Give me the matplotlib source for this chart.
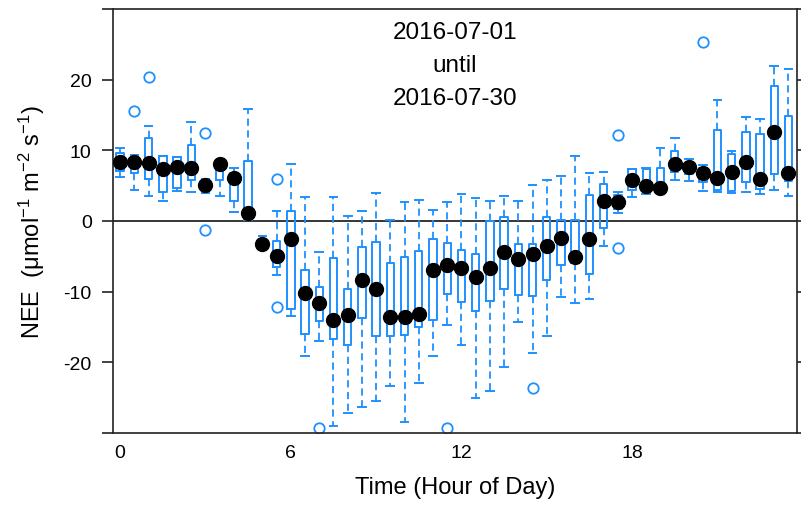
import matplotlib
matplotlib.use("Agg")
import matplotlib.pyplot as plt
import numpy as np

plt.rcParams['font.family'] = ['Liberation Sans', 'DejaVu Sans']
plt.rcParams['mathtext.fontset'] = 'custom'
plt.rcParams['mathtext.rm'] = 'Liberation Sans'
plt.rcParams['mathtext.it'] = 'Liberation Sans:italic'
plt.rcParams['mathtext.default'] = 'regular'

hours = [h / 2 for h in range(48)]
whislo = [6.2, 4.4, 3.6, 2.9, 4.2, 4.1, 3.95, 3.6, 1.3, 0.1,
          -4.05, -7.6, -13.5, -19.15, -17.0, -28.95, -27.15, -26.35, -25.45, -23.4,
          -28.5, -22.95, -19.15, -14.65, -17.55, -25.1, -24.1, -20.6, -14.35, -18.7,
          -16.25, -10.7, -11.6, -11.1, -3.5, 1.1, 3.35, 3.8, 4.05, 5.75,
          5.65, 4.2, 4.05, 3.95, 4.15, 3.8, 4.45, 3.6]
q1 = [7.1, 6.8, 5.9, 4.05, 4.6, 5.8, 3.95, 5.8, 2.9, 0.3,
      -3.8, -6.5, -12.45, -16.0, -14.15, -16.7, -17.6, -13.7, -16.25, -16.25,
      -16.1, -15.0, -14.05, -10.3, -11.5, -12.8, -11.35, -9.6, -10.45, -10.6,
      -8.35, -6.2, -6.0, -7.5, -1.0, 1.7, 4.4, 3.9, 4.05, 6.9,
      6.65, 5.45, 4.45, 4.25, 5.45, 4.5, 6.65, 5.7]
q3 = [9.6, 9.2, 11.7, 9.15, 9.0, 10.75, 6.0, 8.5, 6.8, 8.5,
      -2.6, -2.85, 1.4, -6.9, -9.4, -5.2, -9.6, -3.7, -3.0, -5.9,
      -5.05, -4.25, -2.55, -3.15, -4.1, -4.6, 0.05, 0.5, -3.25, -3.25,
      0.5, 0.15, 0.15, 3.75, 5.3, 3.7, 7.35, 7.3, 7.5, 9.85,
      8.2, 7.45, 12.85, 9.5, 12.65, 12.3, 19.05, 14.8]
whishi = [10.4, 9.3, 13.4, 9.2, 9.05, 14.05, 6.0, 8.6, 7.5, 15.85,
          -2.1, 1.4, 8.1, 3.35, -4.4, 3.35, 0.75, 1.4, 3.95, 0.2,
          2.75, 3.0, 1.5, 2.75, 3.85, 3.25, 2.8, 3.6, 2.8, 5.15,
          5.8, 6.4, 9.25, 6.75, 7.0, 4.15, 7.35, 7.55, 10.4, 11.8,
          8.75, 7.9, 17.1, 9.95, 14.65, 14.4, 21.9, 21.5]
centre = [8.3, 8.35, 8.2, 7.35, 7.6, 7.45, 5.1, 8.05, 6.1, 1.2,
          -3.2, -5.0, -2.6, -10.25, -11.6, -14.0, -13.3, -8.35, -9.65, -13.6,
          -13.6, -13.1, -6.9, -6.2, -6.65, -7.97, -6.65, -4.4, -5.4, -4.7,
          -3.6, -2.45, -5.05, -2.5, 2.9, 2.75, 5.8, 5.0, 4.6, 8.05,
          7.7, 6.75, 6.05, 6.9, 8.3, 5.95, 12.55, 6.75]
out_hours = [0.5, 1.0, 3.0, 3.0, 5.5, 5.5, 7.0, 11.5, 14.5, 17.5, 17.5, 20.5]
out_vals = [15.5, 20.4, 12.45, -1.3, 6.0, -12.2, -29.3, -29.3, -23.7, 12.15, -3.8, 25.35]

title_lines = ["2016-07-01", "until", "2016-07-30"]
xtick_vals = [0, 6, 12, 18]
ytick_vals = [-30, -20, -10, 0, 10, 20, 30]
ytick_labels = ["", "-20", "-10", "0", "10", "20", ""]

blue = "#1E90FF"

fig = plt.figure(figsize=(8.01, 5.06), dpi=100)
ax = fig.add_axes([112.5 / 801, 1 - 434 / 506, (797 - 112.5) / 801, (434 - 10) / 506])

stats = []
for i, h in enumerate(hours):
    fl = [v for hh, v in zip(out_hours, out_vals) if hh == h]
    stats.append(dict(med=centre[i], q1=q1[i], q3=q3[i], whislo=whislo[i],
                      whishi=whishi[i], fliers=fl))

ax.bxp(stats, positions=hours, widths=0.26, capwidths=0.27, showfliers=True,
       boxprops=dict(color=blue, linewidth=1.4),
       whiskerprops=dict(color=blue, linewidth=1.3, linestyle=(0, (4, 2.5))),
       capprops=dict(color=blue, linewidth=1.4),
       medianprops=dict(linewidth=0, color='none'),
       flierprops=dict(marker='o', markerfacecolor='none', markeredgecolor=blue,
                       markersize=7.5, markeredgewidth=1.3, linestyle='none'),
       manage_ticks=False)

ax.axhline(0, color='black', linewidth=1.1, zorder=1)
ax.plot(hours, centre, 'o', color='black', markersize=10, zorder=5)

ax.set_xlim(-0.27, 23.8)
ax.set_ylim(-30, 30)

for s in ax.spines.values():
    s.set_linewidth(1.2)
    s.set_color('#222222')

ax.set_yticks(ytick_vals)
ax.set_yticklabels(ytick_labels)
ax.tick_params(axis='y', which='both', direction='out', length=8, width=1.2,
               labelsize=14, pad=7, right=True, color='#222222')
ax.set_xticks(xtick_vals)
ax.set_xticklabels([str(v) for v in xtick_vals])
ax.tick_params(axis='x', length=0, labelsize=14, pad=8)

ax.set_xlabel("Time (Hour of Day)", fontsize=17, labelpad=11)
ax.set_ylabel(r"NEE  ($\mu$mol$^{-1}$ m$^{-2}$ s$^{-1}$)", fontsize=17, labelpad=12)

for k, line in enumerate(title_lines):
    ax.text(0.5, 0.946 - k * 0.078, line, transform=ax.transAxes,
            ha='center', va='center', fontsize=17.5)

fig.savefig("out.png", dpi=100)
